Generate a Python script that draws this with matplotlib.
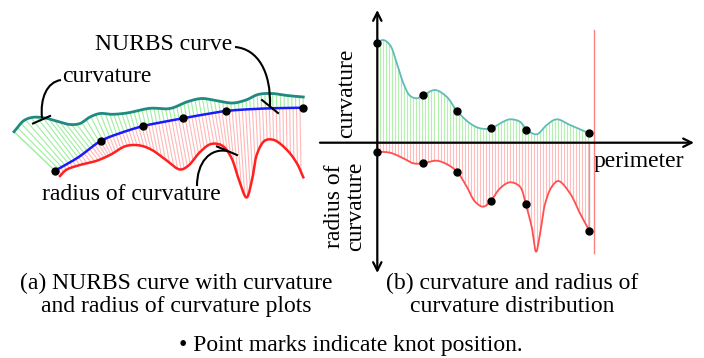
import numpy as np
import matplotlib
matplotlib.use("Agg")
import matplotlib.pyplot as plt
from matplotlib.path import Path
from matplotlib.patches import PathPatch

plt.rcParams['font.family'] = ['Liberation Serif', 'DejaVu Serif']

# ---------------- data ----------------
# panel (a): geometry of the NURBS curve and its two combs (figure pixel coords)
blue_pts = [(55, 170.7), (78, 157.5), (100.7, 141), (122, 132.5), (143.3, 126), (163, 122),
            (182.7, 118.3), (204, 114.5), (225.7, 111), (265, 108.5), (303.3, 107.7)]
knots_a = [(55, 170.7), (100.7, 141), (143.3, 126), (182.7, 118.3), (225.7, 111), (303.3, 107.7)]
green_pts = [(14, 131.7), (24, 120.5), (33, 117.3), (45, 118), (58, 121.5), (70, 124.5),
             (80, 123.5), (90, 117), (100, 113.5), (112, 114.3), (127, 113),
             (150, 108.3), (170, 108.5), (188, 101.5), (202, 98.5), (218, 101),
             (233, 103), (246, 100), (258, 94.5), (272, 93.5), (287, 95.5), (303.3, 97)]
red_pts = [(60, 176), (66, 170), (78, 165.5), (96, 161), (110, 155), (126, 146),
           (140, 145.5), (152, 150), (166, 160), (180, 169.5), (188, 166), (200, 152),
           (211, 144), (222, 145.5), (231, 157), (239, 180), (246.5, 197.5),
           (252, 180), (257, 154), (265, 140.5), (274, 140), (287, 150),
           (297, 163.5), (303.3, 177.3)]

# panel (b): distributions along the perimeter (s normalised 0..1)
curv_s = [0, 0.028, 0.060, 0.092, 0.123, 0.154, 0.186, 0.217, 0.272, 0.327, 0.377, 0.437,
          0.484, 0.536, 0.594, 0.626, 0.673, 0.705, 0.752, 0.799, 0.846, 0.909, 1.0]
curv_k = [1.00, 1.027, 0.977, 0.794, 0.594, 0.47, 0.444, 0.474, 0.527, 0.46, 0.314, 0.194,
          0.144, 0.144, 0.21, 0.234, 0.21, 0.13, 0.084, 0.177, 0.234, 0.177, 0.094]
rad_s = [0, 0.06, 0.123, 0.17, 0.217, 0.28, 0.335, 0.377, 0.422, 0.461, 0.5, 0.536, 0.579,
         0.626, 0.673, 0.70, 0.728, 0.749, 0.768, 0.792, 0.823, 0.854, 0.909, 0.956, 1.0]
rad_r = [0.09, 0.10, 0.156, 0.206, 0.206, 0.18, 0.223, 0.293, 0.44, 0.59, 0.64, 0.58, 0.456,
         0.396, 0.44, 0.613, 0.84, 1.09, 0.906, 0.606, 0.44, 0.383, 0.506, 0.706, 0.88]
knot_s = [0, 0.217, 0.377, 0.536, 0.703, 1.0]
knot_k = [1.0, 0.474, 0.314, 0.144, 0.13, 0.094]
knot_r = [0.09, 0.206, 0.293, 0.58, 0.613, 0.88]

cap_a = "(a) NURBS curve with curvature\nand radius of curvature plots"
cap_b = "(b) curvature and radius of\ncurvature distribution"
note = "\u2022 Point marks indicate knot position."


def catmull(pts, n=14, sx=1.0, sy=1.0, alpha=0.5):
    """centripetal Catmull-Rom spline through pts (rendering only)"""
    P = np.asarray(pts, float)
    P = np.vstack([2 * P[0] - P[1], P, 2 * P[-1] - P[-2]])
    S = np.array([sx, sy])
    out = []
    for i in range(1, len(P) - 2):
        p0, p1, p2, p3 = P[i - 1], P[i], P[i + 1], P[i + 2]
        t0 = 0.0
        t1 = t0 + np.linalg.norm((p1 - p0) * S) ** alpha
        t2 = t1 + np.linalg.norm((p2 - p1) * S) ** alpha
        t3 = t2 + np.linalg.norm((p3 - p2) * S) ** alpha
        t = np.linspace(t1, t2, n, endpoint=False)[:, None]
        A1 = (t1 - t) / (t1 - t0) * p0 + (t - t0) / (t1 - t0) * p1
        A2 = (t2 - t) / (t2 - t1) * p1 + (t - t1) / (t2 - t1) * p2
        A3 = (t3 - t) / (t3 - t2) * p2 + (t - t2) / (t3 - t2) * p3
        B1 = (t2 - t) / (t2 - t0) * A1 + (t - t0) / (t2 - t0) * A2
        B2 = (t3 - t) / (t3 - t1) * A2 + (t - t1) / (t3 - t1) * A3
        out.append((t2 - t) / (t2 - t1) * B1 + (t - t1) / (t2 - t1) * B2)
    out.append(P[-2][None])
    return np.vstack(out)


def resample(curve, m):
    d = np.r_[0, np.cumsum(np.hypot(*np.diff(curve, axis=0).T))]
    u = np.linspace(0, d[-1], m)
    return np.c_[np.interp(u, d, curve[:, 0]), np.interp(u, d, curve[:, 1])]


def ray_hits(P, N, poly):
    A = poly[:-1]; D = poly[1:] - A
    AP = A[None] - P[:, None]
    Nx = N[:, None]
    den = Nx[..., 0] * D[None, :, 1] - Nx[..., 1] * D[None, :, 0]
    with np.errstate(divide='ignore', invalid='ignore'):
        t = (AP[..., 0] * D[None, :, 1] - AP[..., 1] * D[None, :, 0]) / den
        u = (AP[..., 0] * Nx[..., 1] - AP[..., 1] * Nx[..., 0]) / den
    ok = (u >= 0) & (u <= 1) & (t > 0)
    t = np.where(ok, t, np.inf).min(axis=1)
    good = np.isfinite(t)
    return P[good], (P + np.where(good, t, 0)[:, None] * N)[good]


fig = plt.figure(figsize=(7.04, 3.58), dpi=100)
ax0 = fig.add_axes([0, 0, 1, 1])
ax0.set_xlim(0, 704)
ax0.set_ylim(358, 0)
ax0.axis('off')

# ---------- panel (a) ----------
blue = catmull(blue_pts)
green = catmull(green_pts)
red = catmull(red_pts)

bs = resample(blue, 70)
T = np.gradient(bs, axis=0)
T /= np.hypot(T[:, 0], T[:, 1])[:, None]
Nd = np.c_[-T[:, 1], T[:, 0]]

# green comb: rays on the convex side, blended towards the start edge direction
edge = np.asarray(green_pts[0]) - np.asarray(blue_pts[0])
edge /= np.hypot(*edge)
w = np.clip(1 - np.linspace(0, 1, len(bs)) / 0.14, 0, 1)[:, None]
Ng = -Nd * (1 - w) + edge * w
Ng /= np.hypot(Ng[:, 0], Ng[:, 1])[:, None]
G0, G1 = ray_hits(bs, Ng, green)
for p, q in zip(G0, G1):
    ax0.plot([p[0], q[0]], [p[1], q[1]], color='#9eeea0', lw=0.8, zorder=1)
ax0.plot([blue_pts[0][0], green_pts[0][0]], [blue_pts[0][1], green_pts[0][1]],
         color='#9eeea0', lw=0.8, zorder=1)

bs2 = resample(blue, 78)
T2 = np.gradient(bs2, axis=0)
T2 /= np.hypot(T2[:, 0], T2[:, 1])[:, None]
N2 = np.c_[-T2[:, 1], T2[:, 0]]
P0, P1 = ray_hits(bs2, N2, red)
for p, q in zip(P0, P1):
    ax0.plot([p[0], q[0]], [p[1], q[1]], color='#ffb8b8', lw=0.8, zorder=1)

ax0.plot(green[:, 0], green[:, 1], color='#1f8a80', lw=2.0, zorder=3)
ax0.plot(red[:, 0], red[:, 1], color='#ff2020', lw=1.8, zorder=3)
ax0.plot(blue[:, 0], blue[:, 1], color='#1a1aff', lw=1.8, zorder=4)
ka = np.asarray(knots_a)
ax0.plot(ka[:, 0], ka[:, 1], 'o', color='black', ms=5, zorder=5)


def leader(p0, c1, c2, p1, bar):
    path = Path([p0, c1, c2, p1], [Path.MOVETO, Path.CURVE4, Path.CURVE4, Path.CURVE4])
    ax0.add_patch(PathPatch(path, fc='none', ec='black', lw=1.5, zorder=6))
    ax0.plot([bar[0][0], bar[1][0]], [bar[0][1], bar[1][1]], color='black', lw=1.5, zorder=6)


leader((61, 80), (47, 82), (40, 98), (42, 118), ((33, 123.5), (50, 116)))
leader((235, 47), (258, 49), (271, 72), (270, 106), ((262, 100), (278, 113)))
leader((197, 186), (197, 162), (210, 148), (227, 151), ((217, 146.5), (237, 155)))

fs = 17
ax0.text(95, 45, "NURBS curve", fontsize=fs, ha='left', va='center', zorder=7)
ax0.text(62, 76, "curvature", fontsize=fs, ha='left', va='center', zorder=7)
ax0.text(42, 194, "radius of curvature", fontsize=fs, ha='left', va='center', zorder=7)

ax0.text(176, 295, cap_a, fontsize=fs, ha='center', va='center', multialignment='center',
         linespacing=1.1)
ax0.text(512, 295, cap_b, fontsize=fs, ha='center', va='center', multialignment='center',
         linespacing=1.1)
ax0.text(351, 345, note, fontsize=fs, ha='center', va='center')

# ---------- panel (b) ----------
ax1 = fig.add_axes([320 / 704, 85 / 358, 374 / 704, 263 / 358])
ax1.set_facecolor('none')
ax1.axis('off')
ax1.set_xlim(-0.2703, 1.4939)
ax1.set_ylim(-1.303, 1.327)

ck = catmull(list(zip(curv_s, curv_k)), sx=212, sy=100)
cr = catmull(list(zip(rad_s, rad_r)), sx=212, sy=100)
sh = np.arange(0.0, 1.0001, 0.0142)
ax1.vlines(sh, 0, np.interp(sh, ck[:, 0], ck[:, 1]), color='#b6f0ae', lw=0.8, zorder=1)
ax1.vlines(sh, -np.interp(sh, cr[:, 0], cr[:, 1]), 0, color='#ffbcbc', lw=0.8, zorder=1)
ax1.plot([1.0, 1.0], [0, -rad_r[-1]], color='#b0b0b0', lw=1.0, zorder=1)
ax1.plot(ck[:, 0], ck[:, 1], color='#5fbcb8', lw=1.3, zorder=3)
ax1.plot(cr[:, 0], -cr[:, 1], color='#ff5050', lw=1.3, zorder=3)
ax1.plot([1.02, 1.02], [-1.103, 1.127], color='#ff8080', lw=1.0, zorder=2)

ax1.annotate('', xy=(1.4939, 0), xytext=(-0.2703, 0),
             arrowprops=dict(arrowstyle='->,head_length=0.6,head_width=0.3', lw=1.6,
                             color='black', shrinkA=0, shrinkB=0), zorder=4)
ax1.annotate('', xy=(0, 1.327), xytext=(0, -1.303),
             arrowprops=dict(arrowstyle='<->,head_length=0.6,head_width=0.3', lw=1.6,
                             color='black', shrinkA=0, shrinkB=0), zorder=4)

ax1.plot(knot_s, knot_k, 'o', color='black', ms=5, zorder=5)
ax1.plot(knot_s, [-v for v in knot_r], 'o', color='black', ms=5, zorder=5)

ax0.text(347, 93, "curvature", fontsize=fs, rotation=90, ha='center', va='center')
ax0.text(345, 206, "radius of\ncurvature", fontsize=fs, rotation=90, ha='center', va='center',
         multialignment='center', linespacing=1.05)
ax0.text(594, 167, "perimeter", fontsize=fs, ha='left', va='baseline')

fig.savefig('out.png', dpi=100)
